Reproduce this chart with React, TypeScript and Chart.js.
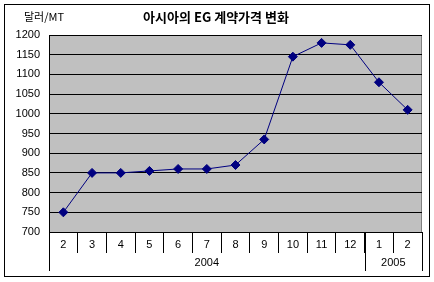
import React, { useEffect, useRef } from "react";
import { Chart, registerables } from "chart.js";

Chart.register(...registerables);

const months = ["2", "3", "4", "5", "6", "7", "8", "9", "10", "11", "12", "1", "2"];
const prices = [750, 850, 850, 855, 860, 860, 870, 935, 1145, 1180, 1175, 1080, 1010];
const years = ["2004", "2005"];
const yearSpans = [11, 2];
const yTickMin = 700;
const yTickMax = 1200;
const yTickStep = 50;
const titleText = "아시아의 EG 계약가격 변화";
const unitText = "달러/MT";

const FONT = "'Liberation Sans', Arial, sans-serif";
const KFONT = "'Noto Sans CJK KR', 'Liberation Sans', sans-serif";

const framePlugin = {
  id: "frame",
  beforeDraw(chart: any) {
    const { ctx, chartArea } = chart;
    ctx.save();
    ctx.fillStyle = "#ffffff";
    ctx.fillRect(0, 0, chart.width, chart.height);
    ctx.strokeStyle = "#000000";
    ctx.lineWidth = 1;
    ctx.strokeRect(4.5, 4.5, 425, 272);
    ctx.fillStyle = "#c0c0c0";
    ctx.fillRect(chartArea.left, chartArea.top, chartArea.right - chartArea.left, chartArea.bottom - chartArea.top);
    ctx.strokeStyle = "#808080";
    ctx.strokeRect(chartArea.left + 0.5, chartArea.top + 0.5, chartArea.right - chartArea.left - 1, chartArea.bottom - chartArea.top);
    ctx.restore();
  },
  afterDraw(chart: any) {
    const { ctx, chartArea } = chart;
    const xs = chart.scales.x;
    ctx.save();
    ctx.fillStyle = "#000000";
    ctx.textBaseline = "middle";
    ctx.font = "bold 13px " + KFONT;
    ctx.textAlign = "center";
    ctx.fillText(titleText, 216, 17);
    ctx.font = "11px " + KFONT;
    ctx.textAlign = "left";
    ctx.fillText(unitText, 24, 17);
    const half = (xs.getPixelForValue(1) - xs.getPixelForValue(0)) / 2;
    const top = chartArea.bottom;
    const bottom = chartArea.bottom + 39;
    ctx.strokeStyle = "#000000";
    ctx.lineWidth = 1;
    let start = 0;
    const drawSep = (x: number) => {
      const px = Math.round(x) + 0.5;
      ctx.beginPath();
      ctx.moveTo(px, top);
      ctx.lineTo(px, bottom);
      ctx.stroke();
    };
    drawSep(xs.getPixelForValue(0) - half);
    ctx.font = "11px " + FONT;
    ctx.textAlign = "center";
    years.forEach((y, i) => {
      const end = start + yearSpans[i] - 1;
      const cx = (xs.getPixelForValue(start) + xs.getPixelForValue(end)) / 2;
      ctx.fillText(y, cx, chartArea.bottom + 31);
      drawSep(xs.getPixelForValue(end) + half);
      start = end + 1;
    });
    ctx.restore();
  },
};

export default function App() {
  const ref = useRef<HTMLCanvasElement>(null);
  useEffect(() => {
    document.body.style.margin = "0";
    const chart = new Chart(ref.current!, {
      type: "line",
      data: {
        labels: months,
        datasets: [
          {
            data: prices,
            borderColor: "#000080",
            backgroundColor: "#000080",
            borderWidth: 1,
            pointStyle: "rectRot",
            pointRadius: 4.5,
            pointBorderWidth: 1,
            tension: 0,
          },
        ],
      },
      options: {
        animation: false,
        responsive: false,
        layout: { padding: { left: 0, right: 12, top: 35, bottom: 0 } },
        plugins: { legend: { display: false }, title: { display: false }, tooltip: { enabled: false } },
        scales: {
          x: {
            offset: true,
            grid: { offset: true, drawOnChartArea: false, drawTicks: true, tickLength: 21, color: "#000000" },
            border: { color: "#000000" },
            ticks: { padding: -15, color: "#000000", font: { family: FONT, size: 11 }, maxRotation: 0, autoSkip: false },
            afterFit: (s: any) => { s.height = 50; },
          },
          y: {
            min: yTickMin,
            max: yTickMax,
            grid: { color: "#000000", drawTicks: false },
            border: { color: "#000000" },
            ticks: {
              stepSize: yTickStep,
              padding: 9,
              color: "#000000",
              font: { family: FONT, size: 11 },
              callback: (v: any) => String(v),
            },
            afterFit: (s: any) => { s.width = 49; },
          },
        },
      },
      plugins: [framePlugin],
    });
    return () => chart.destroy();
  }, []);
  return <canvas ref={ref} width={434} height={282} style={{ display: "block" }} />;
}
